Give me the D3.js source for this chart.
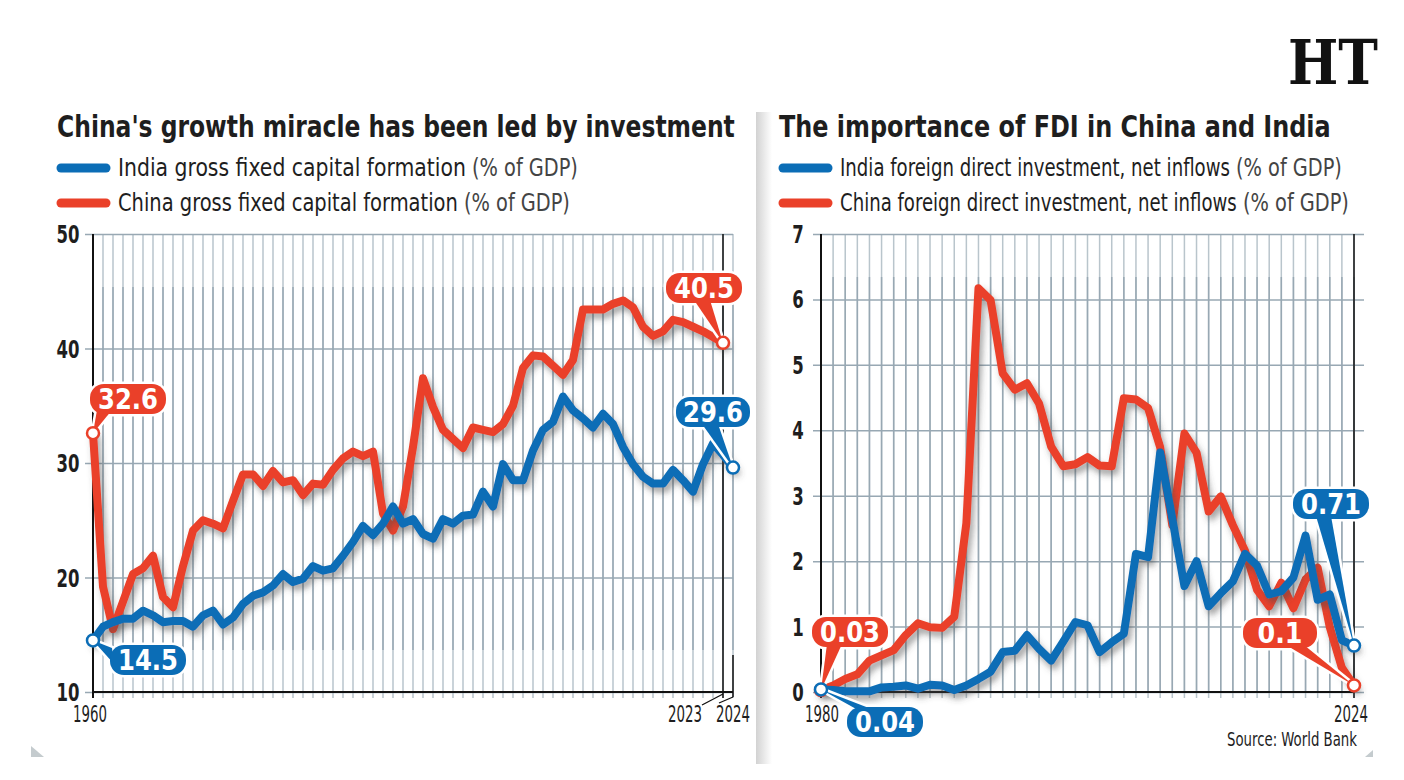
<!DOCTYPE html>
<html>
<head>
<meta charset="utf-8">
<script src="https://cdn.jsdelivr.net/npm/d3@7"></script>
<style>
  body { margin: 0; background: #fff; }
  text { font-family: "Liberation Sans Narrow", "DejaVu Sans Condensed", "Open Sans", sans-serif; fill: #1e1e1e; }
</style>
</head>
<body>
<div class="canvas"></div>
<script>
// ---- data ----

const yearsGFCF = d3.range(1960, 2025);
const chinaGFCF = [32.6, 19.2, 15.5, 17.9, 20.3, 20.8, 21.9, 18.3, 17.4, 21.0,
                   24.1, 25.0, 24.7, 24.3, 26.7, 29.0, 29.0, 28.0, 29.3, 28.3,
                   28.5, 27.2, 28.2, 28.1, 29.4, 30.4, 31.0, 30.6, 31.0, 25.6,
                   24.1, 26.2, 31.4, 37.4, 34.9, 32.9, 32.1, 31.3, 33.1, 32.9,
                   32.7, 33.4, 35.0, 38.3, 39.4, 39.3, 38.5, 37.7, 39.0, 43.4,
                   43.4, 43.4, 43.9, 44.2, 43.6, 41.9, 41.1, 41.5, 42.5, 42.3,
                   41.9, 41.5, 41.0, 40.5];               // ends 2023
const indiaGFCF = [14.5, 15.7, 16.1, 16.4, 16.4, 17.1, 16.7, 16.1, 16.2, 16.2,
                   15.7, 16.7, 17.1, 15.9, 16.5, 17.7, 18.4, 18.7, 19.3, 20.3,
                   19.6, 19.9, 21.0, 20.6, 20.8, 21.9, 23.1, 24.5, 23.7, 24.7,
                   26.2, 24.7, 25.1, 23.8, 23.4, 25.1, 24.7, 25.4, 25.5, 27.5,
                   26.2, 29.9, 28.5, 28.5, 31.1, 32.9, 33.6, 35.8, 34.6, 33.9,
                   33.1, 34.3, 33.4, 31.4, 29.9, 28.8, 28.2, 28.2, 29.4, 28.5,
                   27.5, 29.9, 31.7, 30.7, 29.6];         // ends 2024
const gfcfTicks = [10, 20, 30, 40, 50];

const yearsFDI = d3.range(1980, 2025);
const chinaFDI = [0.03, 0.1, 0.2, 0.27, 0.48, 0.56, 0.64, 0.87, 1.05, 0.99,
                  0.98, 1.15, 2.58, 6.17, 5.99, 4.87, 4.62, 4.72, 4.41, 3.75,
                  3.45, 3.48, 3.59, 3.46, 3.45, 4.49, 4.47, 4.34, 3.74, 2.55,
                  3.95, 3.66, 2.76, 2.99, 2.55, 2.16, 1.56, 1.31, 1.67, 1.28,
                  1.72, 1.90, 0.99, 0.37, 0.1];
const indiaFDI = [0.04, 0.03, 0.01, 0.01, 0.01, 0.07, 0.08, 0.1, 0.05, 0.11,
                  0.1, 0.03, 0.1, 0.2, 0.31, 0.61, 0.63, 0.87, 0.66, 0.48,
                  0.77, 1.07, 1.02, 0.61, 0.76, 0.89, 2.11, 2.06, 3.66, 2.65,
                  1.62, 2.0, 1.31, 1.51, 1.69, 2.11, 1.93, 1.49, 1.54, 1.75,
                  2.39, 1.41, 1.49, 0.79, 0.71];
const fdiTicks = [0, 1, 2, 3, 4, 5, 6, 7];

const blue = "#0b6db6";
const red = "#ea4029";
const gridLight = "#b9c5cc";
const gridDark = "#98a8b3";

// ---- svg ----

const svg = d3.select(".canvas")
    .append("svg")
    .attr("width", 1404)
    .attr("height", 780);

const defs = svg.append("defs");
const shadow = defs.append("filter").attr("id", "shadow")
    .attr("x", "-10%").attr("y", "-10%").attr("width", "130%").attr("height", "130%");
shadow.append("feDropShadow")
    .attr("dx", 3).attr("dy", 5).attr("stdDeviation", 3)
    .attr("flood-color", "#4a4a4a").attr("flood-opacity", 0.5);

const grad = defs.append("linearGradient").attr("id", "divider");
grad.append("stop").attr("offset", "0%").attr("stop-color", "#d2d2d2");
grad.append("stop").attr("offset", "100%").attr("stop-color", "#ffffff");

// panel divider shadow + card corners
svg.append("rect")
    .attr("x", 756).attr("y", 112).attr("width", 16).attr("height", 652)
    .attr("fill", "url(#divider)");
svg.append("path").attr("d", "M31,746 L44,757 L31,757 Z").attr("fill", "#c4cbce");
svg.append("path").attr("d", "M1373,750 L1373,757 L1365,757 Z").attr("fill", "#c4cbce");

// narrow text: squeeze horizontally to a given width (x = left edge)
function narrow(g, t, px, py, size, len, weight, fill, family) {
    const el = g.append("text")
        .attr("x", 0).attr("y", 0)
        .style("font-size", size + "px")
        .style("font-weight", weight || "normal")
        .style("fill", fill || "#1e1e1e")
        .text(t);
    if (family) el.style("font-family", family);
    const w = el.node().getComputedTextLength();
    el.attr("transform", `translate(${px},${py}) scale(${len / w},1)`);
    return el;
}

// HT logo
narrow(svg, "HT", 1288, 84, 62, 90, "bold", "#111", "'DejaVu Serif', 'Liberation Serif', serif");

// ---- one panel ----

function drawPanel(o) {
    const x = d3.scaleLinear().domain(o.xDomain).range([o.left, o.right]);
    const y = d3.scaleLinear().domain(o.yDomain).range([o.bottom, o.top]);
    const g = svg.append("g");

    // title
    narrow(g, o.title, o.titleX, 137, 31, o.titleLen, "bold");

    // legend
    o.legend.forEach((lg, i) => {
        const ly = 168 + i * 35;
        g.append("line")
            .attr("x1", o.titleX + 4).attr("x2", o.titleX + 49)
            .attr("y1", ly).attr("y2", ly)
            .attr("stroke", lg.color).attr("stroke-width", 9)
            .attr("stroke-linecap", "round");
        const lx = o.titleX + 61;
        const labelLen = lg.len - 112;
        narrow(g, lg.label, lx, ly + 8, 24, labelLen);
        narrow(g, "(% of GDP)", lx + labelLen + 6, ly + 8, 24, 106, 300, "#444");
    });

    // vertical grid, one per year (lighter at the ends, darker band)
    g.append("g").selectAll("line").data(o.years).join("line")
        .attr("x1", d => x(d)).attr("x2", d => x(d))
        .attr("y1", o.top).attr("y2", o.bottom + 6)
        .attr("stroke", gridLight).attr("stroke-width", 1.5);
    g.append("g").selectAll("line").data(o.years).join("line")
        .attr("x1", d => x(d)).attr("x2", d => x(d))
        .attr("y1", o.bandTop).attr("y2", o.bandBottom)
        .attr("stroke", gridDark).attr("stroke-width", 1.5);

    // horizontal grid (labels drawn by hand, narrow)
    const yAxis = g.append("g")
        .attr("transform", `translate(${o.left - 8},0)`)
        .call(d3.axisLeft(y)
            .tickValues(o.yTicks)
            .tickSize(-(o.right - o.left + 8 + o.gridExt))
            .tickFormat(""));
    yAxis.select(".domain").remove();
    yAxis.selectAll(".tick line").attr("stroke", gridDark).attr("stroke-width", 1.5);
    o.yTicks.forEach(v => {
        const s = String(v);
        const len = s.length * 11.5;
        narrow(g, s, o.labelX - len / 2, y(v) + 9, 25, len, "bold");
    });

    // frame
    g.append("line")
        .attr("x1", o.left).attr("x2", o.left)
        .attr("y1", o.top).attr("y2", o.bottom + 6)
        .attr("stroke", "#111").attr("stroke-width", 2);
    g.append("line")
        .attr("x1", x(o.borderYear)).attr("x2", x(o.borderYear))
        .attr("y1", o.top).attr("y2", o.bottom + 6)
        .attr("stroke", "#111").attr("stroke-width", 1.5);
    g.append("line")
        .attr("x1", o.left).attr("x2", o.right)
        .attr("y1", o.bottom).attr("y2", o.bottom)
        .attr("stroke", "#111").attr("stroke-width", 2);

    // lines: red first, blue on top
    const line = (ys) => d3.line()
        .x((d, i) => x(ys[i]))
        .y(d => y(d));
    o.series.forEach(s => {
        g.append("path")
            .datum(s.values)
            .attr("fill", "none")
            .attr("stroke", s.color)
            .attr("stroke-width", 8)
            .attr("stroke-linejoin", "round")
            .attr("stroke-linecap", "round")
            .attr("filter", "url(#shadow)")
            .attr("d", line(s.years));
    });

    // callouts: wedge + pill with a white outline, then circle at the point
    o.callouts.forEach(c => {
        const px = x(c.year), py = y(c.value);
        const wedge = `M${px},${py} L${c.base[0][0]},${c.base[0][1]} L${c.base[1][0]},${c.base[1][1]} Z`;
        [true, false].forEach(outline => {
            g.append("path").attr("d", wedge)
                .attr("fill", c.color)
                .attr("stroke", outline ? "#fff" : "none")
                .attr("stroke-width", 5).attr("stroke-linejoin", "round");
            g.append("rect")
                .attr("x", c.cx - c.w / 2).attr("y", c.cy - 15)
                .attr("width", c.w).attr("height", 30)
                .attr("rx", 14)
                .attr("fill", c.color)
                .attr("stroke", outline ? "#fff" : "none")
                .attr("stroke-width", 5);
        });
        const s = String(c.value);
        narrow(g, s, c.cx - s.length * 7.5, c.cy + 10, 28, s.length * 15, "bold", "#fff");
        g.append("circle")
            .attr("cx", px).attr("cy", py).attr("r", 6)
            .attr("fill", "#fff")
            .attr("stroke", c.color).attr("stroke-width", 2.5);
    });

    return { x, y, g };
}

// ---- left: gross fixed capital formation ----

const left = drawPanel({
    left: 93, right: 733, top: 234, bottom: 692,
    xDomain: [1960, 2024], yDomain: [10, 50],
    years: yearsGFCF, yTicks: gfcfTicks, gridExt: 0, labelX: 68,
    bandTop: 287, bandBottom: 650, borderYear: 2023,
    titleX: 57, titleLen: 678,
    title: "China's growth miracle has been led by investment",
    legend: [
        { color: blue, label: "India gross fixed capital formation", len: 460 },
        { color: red, label: "China gross fixed capital formation", len: 452 }
    ],
    series: [
        { color: red, years: yearsGFCF, values: chinaGFCF },
        { color: blue, years: yearsGFCF, values: indiaGFCF }
    ],
    callouts: [
        { year: 1960, value: chinaGFCF[0], color: red, cx: 128, cy: 399, w: 76, base: [[97, 410], [112, 410]] },
        { year: 1960, value: indiaGFCF[0], color: blue, cx: 148, cy: 660, w: 76, base: [[112, 648], [114, 664]] },
        { year: 2023, value: chinaGFCF[63], color: red, cx: 704, cy: 288, w: 76, base: [[694, 300], [710, 300]] },
        { year: 2024, value: indiaGFCF[64], color: blue, cx: 713, cy: 412, w: 74, base: [[702, 424], [718, 424]] }
    ]
});

// extra right edge at 2024 and the two end-year leaders
left.g.append("line")
    .attr("x1", 733).attr("x2", 733).attr("y1", 655).attr("y2", 697)
    .attr("stroke", "#111").attr("stroke-width", 1.5);
left.g.append("path")
    .attr("d", "M723,694 L702,705 M733,697 L719,703")
    .attr("stroke", "#111").attr("stroke-width", 1.3).attr("fill", "none");
[[1960, 90], [2023, 685], [2024, 733]].forEach(([t, px]) => {
    narrow(left.g, t, px - 17, 722, 23, 34);
});

// ---- right: FDI ----

const right = drawPanel({
    left: 821, right: 1354, top: 234, bottom: 692,
    xDomain: [1980, 2024], yDomain: [0, 7],
    years: yearsFDI, yTicks: fdiTicks, gridExt: 10, labelX: 798,
    bandTop: 277, bandBottom: 692, borderYear: 2024,
    titleX: 779, titleLen: 552,
    title: "The importance of FDI in China and India",
    legend: [
        { color: blue, label: "India foreign direct investment, net inflows", len: 502 },
        { color: red, label: "China foreign direct investment, net inflows", len: 509 }
    ],
    series: [
        { color: red, years: yearsFDI, values: chinaFDI },
        { color: blue, years: yearsFDI, values: indiaFDI }
    ],
    callouts: [
        { year: 1980, value: chinaFDI[0], color: red, cx: 850, cy: 632, w: 76, base: [[827, 644], [842, 644]] },
        { year: 1980, value: indiaFDI[0], color: blue, cx: 885, cy: 722, w: 76, base: [[858, 710], [874, 710]] },
        { year: 2024, value: indiaFDI[44], color: blue, cx: 1331, cy: 504, w: 76, base: [[1316, 516], [1331, 516]] },
        { year: 2024, value: chinaFDI[44], color: red, cx: 1280, cy: 633, w: 74, base: [[1286, 645], [1304, 645]] }
    ]
});

[[1980, 822], [2024, 1351]].forEach(([t, px]) => {
    narrow(right.g, t, px - 17, 722, 23, 34);
});

narrow(svg, "Source: World Bank", 1227, 746, 20, 130);
</script>
</body>
</html>
